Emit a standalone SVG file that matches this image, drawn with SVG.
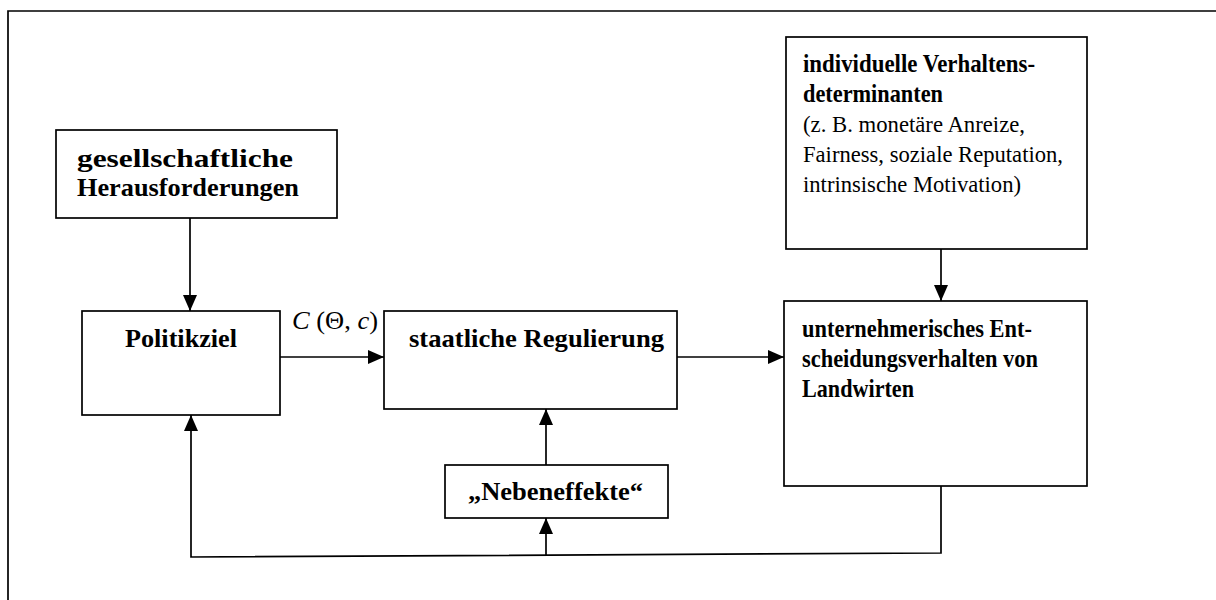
<svg xmlns="http://www.w3.org/2000/svg" width="1216" height="600" viewBox="0 0 1216 600">
<style>
  .box { fill: #fff; stroke: #000; stroke-width: 1.7; }
  .ln { fill: none; stroke: #000; stroke-width: 1.7; }
  .b { font-family: "Liberation Serif", "Times New Roman", serif; font-weight: bold; font-size: 25px; fill: #000; }
  .r { font-family: "Liberation Serif", "Times New Roman", serif; font-size: 23px; fill: #000; }
  .m { font-family: "Liberation Serif", "Times New Roman", serif; font-size: 26px; fill: #000; }
</style>
<defs>
  <marker id="ah" markerUnits="userSpaceOnUse" markerWidth="16" markerHeight="14" refX="16" refY="7" orient="auto">
    <path d="M0,0 L16,7 L0,14 Z" fill="#000"/>
  </marker>
</defs>
<rect width="1216" height="600" fill="#fff"/>
<path class="ln" d="M8,600 L8,11 L1216,11"/>

<g id="connectors">
  <line class="ln" x1="190" y1="218" x2="190" y2="311" marker-end="url(#ah)"/>
  <line class="ln" x1="280" y1="357" x2="384" y2="357" marker-end="url(#ah)"/>
  <line class="ln" x1="677" y1="357" x2="784" y2="357" marker-end="url(#ah)"/>
  <line class="ln" x1="941" y1="249" x2="941" y2="301" marker-end="url(#ah)"/>
  <line class="ln" x1="546" y1="465" x2="546" y2="409" marker-end="url(#ah)"/>
  <line class="ln" x1="546" y1="555" x2="546" y2="518" marker-end="url(#ah)"/>
  <polyline class="ln" points="941,486 941,553 191,557 191,415" marker-end="url(#ah)"/>
  <text class="m" x="292" y="329" textLength="86" lengthAdjust="spacingAndGlyphs"><tspan font-style="italic">C</tspan> (Θ, <tspan font-style="italic">c</tspan>)</text>
</g>

<g id="herausforderungen">
  <rect class="box" x="56" y="130" width="281" height="88"/>
  <text class="b" x="77" y="167" textLength="216" lengthAdjust="spacingAndGlyphs">gesellschaftliche</text>
  <text class="b" x="77" y="196" textLength="222" lengthAdjust="spacingAndGlyphs">Herausforderungen</text>
</g>

<g id="politikziel">
  <rect class="box" x="82" y="311" width="198" height="104"/>
  <text class="b" x="125" y="347" textLength="112" lengthAdjust="spacingAndGlyphs">Politikziel</text>
</g>

<g id="regulierung">
  <rect class="box" x="384" y="311" width="293" height="98"/>
  <text class="b" x="409" y="347" textLength="255" lengthAdjust="spacingAndGlyphs">staatliche Regulierung</text>
</g>

<g id="nebeneffekte">
  <rect class="box" x="445" y="465" width="223" height="53"/>
  <text class="b" x="468" y="500" textLength="175" lengthAdjust="spacingAndGlyphs">„Nebeneffekte“</text>
</g>

<g id="determinanten">
  <rect class="box" x="786" y="37" width="301" height="212"/>
  <text class="b" x="803" y="72" textLength="232" lengthAdjust="spacingAndGlyphs">individuelle Verhaltens-</text>
  <text class="b" x="803" y="102" textLength="140" lengthAdjust="spacingAndGlyphs">determinanten</text>
  <text class="r" x="803" y="132" textLength="222" lengthAdjust="spacingAndGlyphs">(z. B. monetäre Anreize,</text>
  <text class="r" x="803" y="162" textLength="260" lengthAdjust="spacingAndGlyphs">Fairness, soziale Reputation,</text>
  <text class="r" x="803" y="192" textLength="218" lengthAdjust="spacingAndGlyphs">intrinsische Motivation)</text>
</g>

<g id="entscheidungsverhalten">
  <rect class="box" x="784" y="301" width="303" height="185"/>
  <text class="b" x="802" y="337" textLength="230" lengthAdjust="spacingAndGlyphs">unternehmerisches Ent-</text>
  <text class="b" x="802" y="367" textLength="236" lengthAdjust="spacingAndGlyphs">scheidungsverhalten von</text>
  <text class="b" x="802" y="397" textLength="112" lengthAdjust="spacingAndGlyphs">Landwirten</text>
</g>
</svg>
